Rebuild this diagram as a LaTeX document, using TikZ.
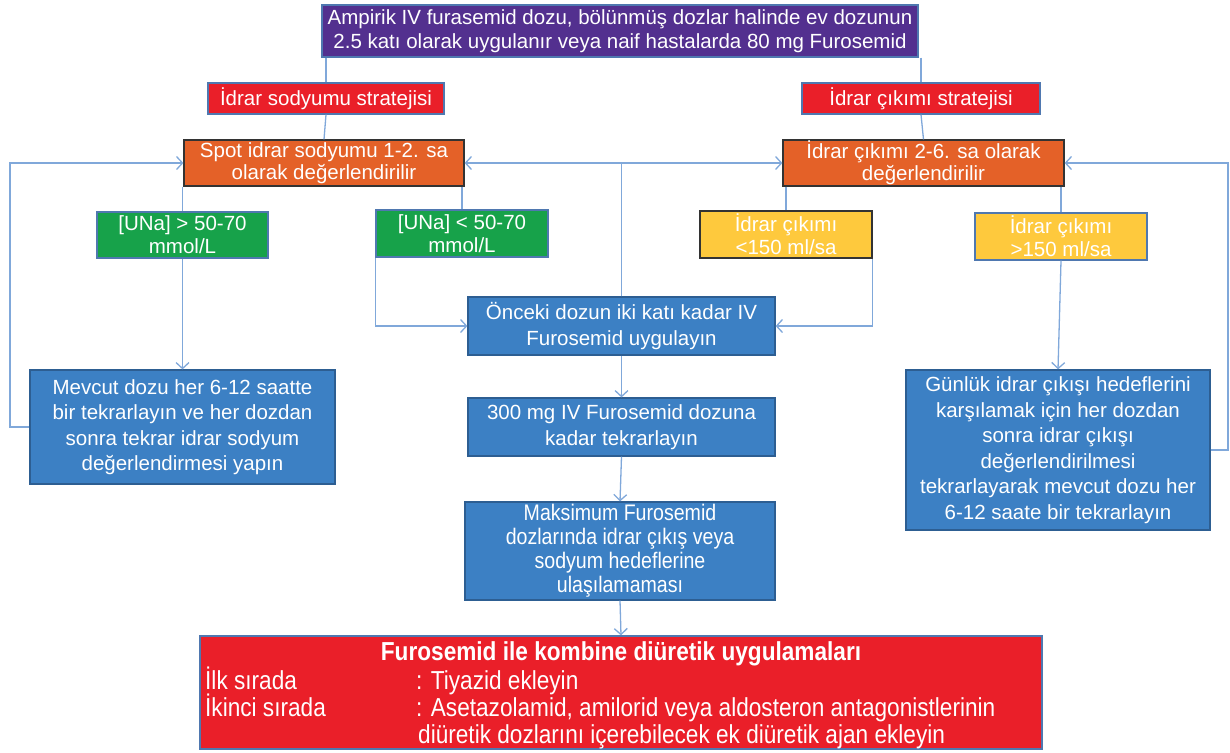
\documentclass[tikz,border=0pt]{standalone}
\usepackage{fontspec}
\setmainfont{Liberation Sans}
\newfontfamily\narrowfont{Liberation Sans}[FakeStretch=0.87]
\usetikzlibrary{arrows.meta}
\definecolor{cpurple}{HTML}{53308F}
\definecolor{cred}{HTML}{EA1F29}
\definecolor{corange}{HTML}{E46128}
\definecolor{cgreen}{HTML}{17A24A}
\definecolor{cyellow}{HTML}{FEC93D}
\definecolor{cblue}{HTML}{3C80C4}
\definecolor{cline}{HTML}{80A8DA}
\definecolor{cbord}{HTML}{4F78B0}
\definecolor{cdblue}{HTML}{2D5E92}
\tikzset{
  box/.style={draw=cbord, line width=1.2pt, text=white, align=center, inner sep=0pt, font=\fontsize{20.5}{23}\selectfont},
  purplebox/.style={box, fill=cpurple},
  redbox/.style={box, fill=cred},
  orangebox/.style={box, fill=corange, draw=black!80},
  greenbox/.style={box, fill=cgreen},
  yellowbox/.style={box, fill=cyellow},
  bluebox/.style={box, fill=cblue, draw=cdblue, font=\fontsize{20.5}{25.5}\selectfont},
  conn/.style={draw=cline, line width=1.3pt},
  arr/.style={conn, -{Straight Barb[length=6pt,width=13pt,line width=1.3pt]}},
}
\begin{document}
\begin{tikzpicture}[x=1pt,y=-1pt]
\useasboundingbox (0,0) rectangle (1230,752);
\node[purplebox, minimum width=596, minimum height=52, font=\fontsize{20.5}{24}\selectfont] (top) at (620,31)
  {Ampirik IV furasemid dozu, bölünmüş dozlar halinde ev dozunun\\2.5 katı olarak uygulanır veya naif hastalarda 80 mg Furosemid};
\node[redbox, minimum width=236, minimum height=31] (redL) at (326,98.5) {İdrar sodyumu stratejisi};
\node[redbox, minimum width=238, minimum height=31] (redR) at (921,98.5) {İdrar çıkımı stratejisi};
\node[orangebox, minimum width=280, minimum height=46, font=\fontsize{20.5}{22}\selectfont] (orL) at (324,163) {Spot idrar sodyumu 1-2. sa\\olarak değerlendirilir};
\node[orangebox, minimum width=281, minimum height=46, font=\fontsize{20.5}{22}\selectfont] (orR) at (923.5,163) {İdrar çıkımı 2-6. sa olarak\\değerlendirilir};
\node[greenbox, minimum width=171, minimum height=46] (g1) at (182.5,235) {[UNa] > 50-70\\mmol/L};
\node[greenbox, minimum width=172, minimum height=47] (g2) at (462,233.5) {[UNa] < 50-70\\mmol/L};
\node[yellowbox, draw=black!80, minimum width=172, minimum height=47] (y1) at (786,234.5) {İdrar çıkımı\\<150 ml/sa};
\node[yellowbox, minimum width=172, minimum height=47] (y2) at (1061,236.5) {İdrar çıkımı\\>150 ml/sa};
\node[bluebox, minimum width=305, minimum height=114] (mev) at (182.5,427)
  {Mevcut dozu her 6-12 saatte\\bir tekrarlayın ve her dozdan\\sonra tekrar idrar sodyum\\değerlendirmesi yapın};
\node[bluebox, minimum width=307, minimum height=58] (onc) at (621.5,326)
  {Önceki dozun iki katı kadar IV\\Furosemid uygulayın};
\node[bluebox, minimum width=307, minimum height=58] (t300) at (621.5,427)
  {300 mg IV Furosemid dozuna\\kadar tekrarlayın};
\node[bluebox, minimum width=310, minimum height=98, font=\narrowfont\fontsize{22.5}{24}\selectfont] (mak) at (620,551)
  {Maksimum Furosemid\\dozlarında idrar çıkış veya\\sodyum hedeflerine\\ulaşılamaması};
\node[bluebox, minimum width=304, minimum height=160] (gun) at (1058,450)
  {Günlük idrar çıkışı hedeflerini\\karşılamak için her dozdan\\sonra idrar çıkışı\\değerlendirilmesi\\tekrarlayarak mevcut dozu her\\6-12 saate bir tekrarlayın};
\node[redbox, minimum width=842, minimum height=113] (bot) at (621,692.5) {};
\begin{scope}[every node/.style={text=white, inner sep=0pt, font=\narrowfont\fontsize{26}{27}\selectfont}]
\node[anchor=base, font=\narrowfont\bfseries\fontsize{26}{27}\selectfont] (bt) at (621,660) {Furosemid ile kombine diüretik uygulamaları};
\node[anchor=base west] (b1) at (205,689) {İlk sırada};
\node[anchor=base west] (b2) at (416,689) {: Tiyazid ekleyin};
\node[anchor=base west] (b3) at (205,716) {İkinci sırada};
\node[anchor=base west] (b4) at (416,716) {: Asetazolamid, amilorid veya aldosteron antagonistlerinin};
\node[anchor=base west] (b5) at (418,743) {diüretik dozlarını içerebilecek ek diüretik ajan ekleyin};
\end{scope}
\coordinate (lx) at (10,0);
\coordinate (rx) at (1228,0);
% connectors
\draw[conn] (redL.north |- top.south) -- (redL.north);
\draw[conn] (redR.north |- top.south) -- (redR.north);
\draw[conn] (redL.south) -- (orL.north);
\draw[conn] (redR.south) -- (orR.north);
\draw[conn] (g1.north |- orL.south) -- (g1.north);
\draw[conn] (g2.north |- orL.south) -- (g2.north);
\draw[conn] (y1.north |- orR.south) -- (y1.north);
\draw[conn] (y2.north |- orR.south) -- (y2.north);
\draw[arr] (g1.south) -- (mev.north);
\draw[arr] (g2.south west) |- (onc.west);
\draw[arr] (y1.south east) |- (onc.east);
\draw[arr] (onc.north) |- (orL.east);
\draw[arr] (onc.north) |- (orR.west);
\draw[arr] (onc.south) -- (t300.north);
\draw[arr] (t300.south) -- (mak.north);
\draw[arr] (mak.south) -- (bot.north);
\draw[arr] (y2.south) -- (gun.north);
\draw[arr] (mev.west) -- (mev.west -| lx) |- (orL.west);
\draw[arr] (gun.east) -- (gun.east -| rx) |- (orR.east);
\end{tikzpicture}
\end{document}
